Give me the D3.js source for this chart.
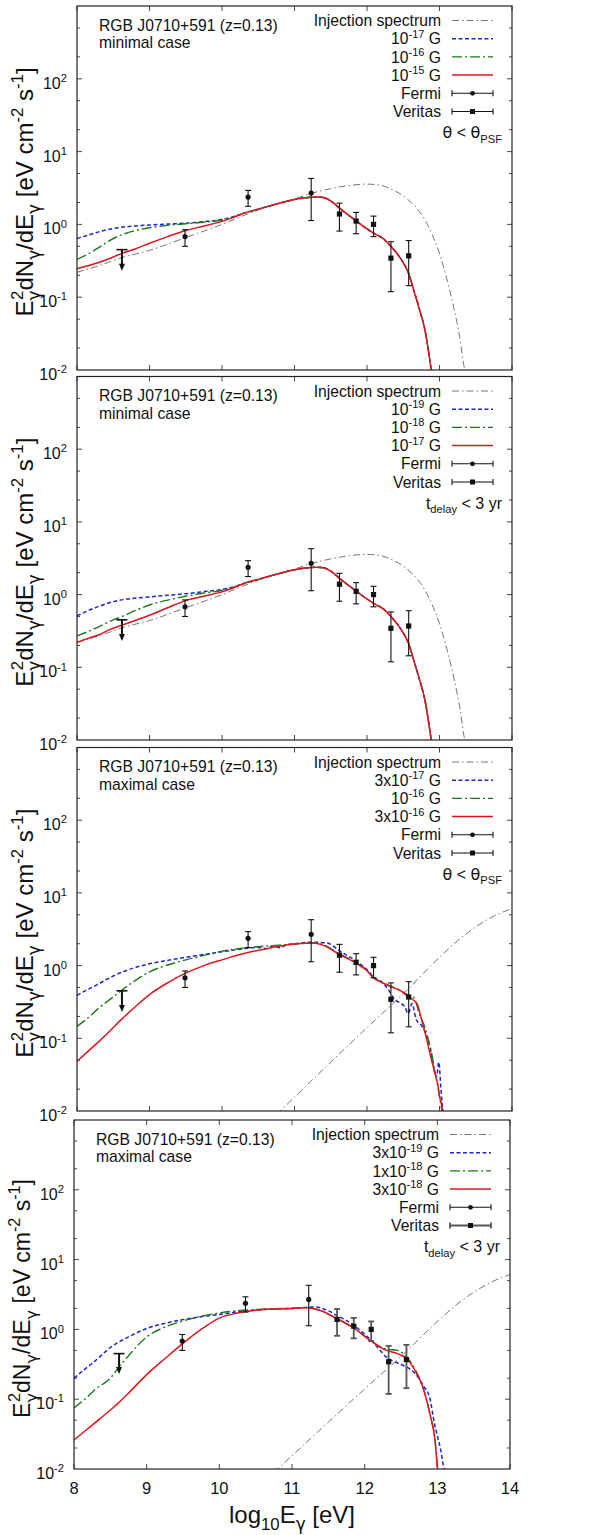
<!DOCTYPE html>
<html>
<head>
<meta charset="utf-8">
<script src="https://cdn.jsdelivr.net/npm/d3@7"></script>
<style>
  body { margin:0; background:#fff; }
  svg { display:block; font-family:'Liberation Sans', Arial, Helvetica, sans-serif; }
  .greek { font-family:'DejaVu Sans', sans-serif; }
</style>
</head>
<body>
<svg id="chart" width="600" height="1535"></svg>
<script>
// ---------------- DATA ----------------
const xTickValues = [8, 9, 10, 11, 12, 13, 14];
const yTickExponents = [-2, -1, 0, 1, 2];
const yMinorFactors = [2, 5];

// Fermi points: log10 E, flux, lower, upper
const fermiE    = [9.49, 10.36, 11.23];
const fermiFlux = [0.68, 2.37, 2.69];
const fermiLo   = [0.50, 1.77, 1.13];
const fermiHi   = [0.845, 2.93, 4.28];
// Fermi upper limit
const fermiULE = 8.62, fermiULTop = 0.45, fermiULTip = 0.23;

// Veritas points
const veritasE    = [11.62, 11.85, 12.09, 12.33, 12.575];
const veritasFlux = [1.39, 1.11, 1.00, 0.344, 0.37];
const veritasLo   = [0.81, 0.745, 0.68, 0.119, 0.144];
const veritasHi   = [1.96, 1.46, 1.30, 0.578, 0.60];

// Injection spectra
const injectionMinimal = [[8.0,0.22],[8.3,0.27],[8.62,0.35],[9.0,0.44],[9.5,0.66],[10.0,1.0],[10.36,1.4],[10.7,1.85],[11.0,2.25],[11.25,2.7],[11.5,3.1],[11.75,3.42],[12.0,3.58],[12.2,3.42],[12.35,3.0],[12.455,2.64],[12.55,2.25],[12.69,1.65],[12.8,1.15],[12.9,0.72],[13.0,0.4],[13.1,0.18],[13.2,0.07],[13.28,0.028],[13.34,0.011],[13.36,0.009]];
const injectionMaximal = [[10.75,0.009],[10.8,0.01],[11.0,0.0155],[11.5,0.047],[12.0,0.14],[12.5,0.41],[13.0,1.3],[13.25,2.2],[13.5,3.4],[13.75,4.8],[14.0,6.1]];

// Panel 1 (minimal, theta < theta_PSF)
const minimalTail = [[10.3,1.42],[10.5,1.62],[10.75,1.9],[11.0,2.2],[11.15,2.32],[11.3,2.38],[11.4,2.34],[11.5,2.1],[11.62,1.68],[11.72,1.4],[11.85,1.12],[12.0,0.87],[12.09,0.76],[12.23,0.63],[12.33,0.5],[12.455,0.35],[12.575,0.21],[12.65,0.12],[12.72,0.07],[12.8,0.035],[12.88,0.011],[12.9,0.008]];
const p1BlueLow  = [[8.0,0.64],[8.15,0.71],[8.3,0.79],[8.45,0.86],[8.6,0.91],[8.8,0.95],[9.0,0.98],[9.25,1.01],[9.5,1.04],[9.75,1.09],[10.0,1.17],[10.15,1.27]];
const p1GreenLow = [[8.0,0.33],[8.15,0.39],[8.3,0.48],[8.45,0.6],[8.6,0.71],[8.8,0.82],[9.0,0.9],[9.25,0.97],[9.5,1.02],[9.75,1.07],[10.0,1.15],[10.15,1.26]];
const p1RedLow   = [[8.0,0.245],[8.15,0.27],[8.3,0.3],[8.45,0.34],[8.62,0.4],[8.8,0.46],[9.0,0.55],[9.25,0.68],[9.49,0.82],[9.75,0.95],[10.0,1.1],[10.15,1.24]];

// Panel 2 (minimal, t_delay < 3 yr)
const p2BlueLow  = [[8.0,0.51],[8.15,0.6],[8.3,0.69],[8.5,0.8],[8.7,0.87],[9.0,0.93],[9.25,0.98],[9.5,1.03],[9.75,1.1],[10.0,1.18],[10.15,1.27]];
const p2GreenLow = [[8.0,0.27],[8.15,0.31],[8.3,0.36],[8.5,0.45],[8.62,0.5],[8.8,0.6],[9.0,0.72],[9.25,0.84],[9.5,0.95],[9.75,1.05],[10.0,1.14],[10.15,1.25]];
const p2RedLow   = [[8.0,0.22],[8.15,0.25],[8.3,0.28],[8.45,0.33],[8.62,0.38],[8.8,0.44],[9.0,0.52],[9.25,0.66],[9.49,0.82],[9.75,0.95],[10.0,1.09],[10.15,1.23]];

// Panel 3 (maximal, theta < theta_PSF)
const p3Blue  = [[8.0,0.39],[8.15,0.47],[8.3,0.56],[8.5,0.72],[8.7,0.87],[9.0,1.06],[9.25,1.18],[9.5,1.3],[9.75,1.42],[10.0,1.55],[10.25,1.68],[10.5,1.78],[10.62,1.72],[10.7,1.86],[10.8,1.76],[10.9,1.95],[11.0,2.0],[11.25,2.1],[11.45,2.05],[11.62,1.6],[11.85,1.15],[12.0,0.88],[12.1,0.68],[12.2,0.6],[12.3,0.46],[12.38,0.34],[12.45,0.31],[12.52,0.27],[12.57,0.22],[12.62,0.3],[12.68,0.18],[12.75,0.15],[12.82,0.11],[12.87,0.075],[12.92,0.04],[12.96,0.03],[12.99,0.047],[13.02,0.02],[13.05,0.009]];
const p3Green = [[8.0,0.146],[8.15,0.19],[8.3,0.26],[8.5,0.37],[8.62,0.46],[8.8,0.62],[9.0,0.82],[9.25,1.02],[9.5,1.2],[9.75,1.38],[10.0,1.58],[10.25,1.72],[10.5,1.82],[10.75,1.9],[11.0,1.98],[11.25,2.05],[11.4,1.92],[11.62,1.45],[11.85,1.1],[12.0,0.86],[12.1,0.68],[12.2,0.6],[12.33,0.52],[12.45,0.46],[12.575,0.39],[12.65,0.36],[12.72,0.22],[12.8,0.14],[12.88,0.07],[12.95,0.03],[13.0,0.016],[13.04,0.009]];
const p3Red   = [[8.0,0.048],[8.15,0.066],[8.3,0.09],[8.45,0.125],[8.62,0.185],[8.8,0.27],[9.0,0.4],[9.25,0.58],[9.49,0.78],[9.75,1.0],[10.0,1.2],[10.25,1.42],[10.5,1.62],[10.75,1.82],[11.0,1.98],[11.25,2.05],[11.4,1.9],[11.62,1.42],[11.85,1.08],[12.0,0.85],[12.1,0.66],[12.2,0.59],[12.33,0.51],[12.45,0.46],[12.575,0.37],[12.69,0.3],[12.76,0.17],[12.82,0.1],[12.88,0.055],[12.93,0.035],[12.98,0.022],[13.0,0.016],[13.03,0.012],[13.05,0.009]];

// Panel 4 (maximal, t_delay < 3 yr)
const p4Blue  = [[8.0,0.2],[8.15,0.27],[8.3,0.36],[8.5,0.55],[8.75,0.78],[9.0,1.03],[9.25,1.22],[9.5,1.38],[9.75,1.52],[10.0,1.64],[10.25,1.78],[10.5,1.88],[10.75,1.96],[11.0,2.0],[11.3,2.1],[11.5,1.85],[11.62,1.58],[11.85,1.15],[12.0,0.85],[12.09,0.7],[12.2,0.52],[12.3,0.4],[12.45,0.33],[12.6,0.28],[12.7,0.23],[12.8,0.16],[12.9,0.1],[12.96,0.045],[13.0,0.03],[13.05,0.018],[13.09,0.01],[13.1,0.009]];
const p4Green = [[8.0,0.075],[8.15,0.1],[8.3,0.14],[8.5,0.2],[8.62,0.29],[8.75,0.42],[9.0,0.78],[9.25,1.08],[9.5,1.32],[9.75,1.54],[10.0,1.72],[10.25,1.85],[10.5,1.92],[10.75,1.98],[11.0,2.02],[11.2,2.05],[11.4,1.85],[11.62,1.42],[11.85,1.05],[12.09,0.68],[12.3,0.52],[12.45,0.5],[12.58,0.4],[12.7,0.26],[12.8,0.15],[12.9,0.06],[12.97,0.025],[13.0,0.011],[13.01,0.009]];
const p4Red   = [[8.0,0.026],[8.15,0.035],[8.3,0.047],[8.5,0.07],[8.62,0.09],[8.75,0.122],[9.0,0.225],[9.25,0.38],[9.49,0.62],[9.75,1.0],[10.0,1.45],[10.25,1.72],[10.5,1.88],[10.75,1.96],[11.0,2.0],[11.2,2.05],[11.4,1.85],[11.62,1.42],[11.85,1.05],[12.09,0.68],[12.3,0.5],[12.45,0.45],[12.58,0.38],[12.7,0.25],[12.8,0.15],[12.9,0.06],[12.97,0.025],[13.0,0.011],[13.01,0.009]];

// Text
const sourceTitle = "RGB J0710+591 (z=0.13)";
const caseLabels = ["minimal case", "minimal case", "maximal case", "maximal case"];
const fieldLabels = [
  [[["10"],["-17","sup"],[" G"]], [["10"],["-16","sup"],[" G"]], [["10"],["-15","sup"],[" G"]]],
  [[["10"],["-19","sup"],[" G"]], [["10"],["-18","sup"],[" G"]], [["10"],["-17","sup"],[" G"]]],
  [[["3x10"],["-17","sup"],[" G"]], [["10"],["-16","sup"],[" G"]], [["3x10"],["-16","sup"],[" G"]]],
  [[["3x10"],["-19","sup"],[" G"]], [["1x10"],["-18","sup"],[" G"]], [["3x10"],["-18","sup"],[" G"]]]
];
const noteTheta = [["θ","n",null,true],[" < "],["θ","n",null,true],["PSF","sub"]];
const noteDelay = [["t"],["delay","sub"],[" < 3 yr"]];

// ---------------- DRAWING ----------------
const svg = d3.select("#chart");
svg.append("rect").attr("width",600).attr("height",1535).attr("fill","#fff");

const COL = {inj:"#666", blue:"#2323d2", green:"#1b7a1b", red:"#e0161c", ink:"#111"};
const STY = {
  inj:   {stroke:COL.inj,   w:0.9, dash:"7,3,1.5,3"},
  blue:  {stroke:COL.blue,  w:1.5, dash:"4,2.5"},
  green: {stroke:COL.green, w:1.4, dash:"10,3,2,3"},
  red:   {stroke:COL.red,   w:1.5, dash:null}
};

// segment: [text, mode, dx, greek]
function rich(sel, segs, fs) {
  let cur = 0;
  segs.forEach(s => {
    const mode = s[1] || "n";
    const target = mode === "sup" ? -0.42*fs : mode === "sub" ? 0.3*fs : 0;
    const size = mode === "n" ? fs : 0.7*fs;
    const t = sel.append("tspan").attr("dy", (target - cur).toFixed(2)).attr("font-size", size).text(s[0]);
    if (s[2] !== undefined && s[2] !== null) t.attr("dx", s[2]);
    if (s[3]) t.attr("class", "greek");
    cur = target;
  });
}

const panels = [
  {L:77, R:512, T:6,     B:370,  inj:injectionMinimal, blue:p1BlueLow.concat(minimalTail), green:p1GreenLow.concat(minimalTail), red:p1RedLow.concat(minimalTail), note:noteTheta, vGray:false, ylfs:24},
  {L:77, R:512, T:376.5, B:740,  inj:injectionMinimal, blue:p2BlueLow.concat(minimalTail), green:p2GreenLow.concat(minimalTail), red:p2RedLow.concat(minimalTail), note:noteDelay, vGray:false, ylfs:24},
  {L:77, R:512, T:747.5, B:1111, inj:injectionMaximal, blue:p3Blue, green:p3Green, red:p3Red, note:noteTheta, vGray:false, ylfs:24},
  {L:74, R:510, T:1120,  B:1469, inj:injectionMaximal, blue:p4Blue, green:p4Green, red:p4Red, note:noteDelay, vGray:true, ylfs:23}
];

panels.forEach((p, i) => {
  const x = d3.scaleLinear().domain([8,14]).range([p.L, p.R]);
  const y = d3.scaleLog().domain([1e-2, 1e3]).range([p.B, p.T]);
  const g = svg.append("g");
  const clipId = "clip" + i;
  svg.append("clipPath").attr("id", clipId).append("rect")
    .attr("x", p.L).attr("y", p.T).attr("width", p.R - p.L).attr("height", p.B - p.T);

  // ticks (all four sides, inward)
  const tk = g.append("g").attr("stroke", "#333").attr("stroke-width", 0.9);
  xTickValues.forEach(v => {
    tk.append("line").attr("x1", x(v)).attr("x2", x(v)).attr("y1", p.B).attr("y2", p.B - 5);
    tk.append("line").attr("x1", x(v)).attr("x2", x(v)).attr("y1", p.T).attr("y2", p.T + 5);
  });
  d3.range(-2, 3).forEach(e => {
    const maj = Math.pow(10, e);
    if (e > -2) {
      tk.append("line").attr("x1", p.L).attr("x2", p.L + 5).attr("y1", y(maj)).attr("y2", y(maj));
      tk.append("line").attr("x1", p.R).attr("x2", p.R - 5).attr("y1", y(maj)).attr("y2", y(maj));
    }
    yMinorFactors.forEach(f => {
      const v = f * maj;
      tk.append("line").attr("x1", p.L).attr("x2", p.L + 3).attr("y1", y(v)).attr("y2", y(v));
      tk.append("line").attr("x1", p.R).attr("x2", p.R - 3).attr("y1", y(v)).attr("y2", y(v));
    });
  });

  // y tick labels
  yTickExponents.forEach(e => {
    const t = g.append("text").attr("x", p.L - 10).attr("y", y(Math.pow(10, e)) + 10)
      .attr("text-anchor", "end").attr("fill", COL.ink).attr("font-size", 16);
    rich(t, [["10"], [String(e), "sup"]], 16);
  });

  // y axis label
  const yl = g.append("text")
    .attr("transform", `translate(${p.L - 44},${(p.T + p.B)/2 + 4}) rotate(-90)`)
    .attr("text-anchor", "middle").attr("fill", COL.ink).attr("font-size", p.ylfs);
  const gw = -0.55*p.ylfs*0.7;
  rich(yl, [["E"], ["γ","sub",null,true], ["2","sup", gw], ["dN"], ["γ","sub",null,true], ["/dE"], ["γ","sub",null,true], [" [eV cm"], ["-2","sup"], [" s"], ["-1","sup"], ["]"]], p.ylfs);

  // curves
  const line = d3.line().x(d => x(d[0])).y(d => y(d[1])).curve(d3.curveMonotoneX);
  const cg = g.append("g").attr("clip-path", `url(#${clipId})`).attr("fill", "none");
  [["inj", p.inj], ["blue", p.blue], ["green", p.green], ["red", p.red]].forEach(([k, data]) => {
    const s = STY[k];
    const path = cg.append("path").datum(data).attr("d", line)
      .attr("stroke", s.stroke).attr("stroke-width", s.w).attr("stroke-linejoin", "round");
    if (s.dash) path.attr("stroke-dasharray", s.dash);
  });

  // data points
  const dg = g.append("g");
  const vCol = p.vGray ? "#555" : "#111";
  const vW = p.vGray ? 1.8 : 1.1;
  fermiE.forEach((e, k) => {
    const cx = x(e);
    dg.append("line").attr("x1", cx).attr("x2", cx).attr("y1", y(fermiLo[k])).attr("y2", y(fermiHi[k])).attr("stroke", "#111").attr("stroke-width", 1.1);
    [fermiLo[k], fermiHi[k]].forEach(v => dg.append("line").attr("x1", cx - 3).attr("x2", cx + 3).attr("y1", y(v)).attr("y2", y(v)).attr("stroke", "#111").attr("stroke-width", 1.1));
    dg.append("circle").attr("cx", cx).attr("cy", y(fermiFlux[k])).attr("r", 2.6).attr("fill", "#111");
  });
  veritasE.forEach((e, k) => {
    const cx = x(e);
    dg.append("line").attr("x1", cx).attr("x2", cx).attr("y1", y(veritasLo[k])).attr("y2", y(veritasHi[k])).attr("stroke", vCol).attr("stroke-width", vW);
    [veritasLo[k], veritasHi[k]].forEach(v => dg.append("line").attr("x1", cx - 3).attr("x2", cx + 3).attr("y1", y(v)).attr("y2", y(v)).attr("stroke", vCol).attr("stroke-width", vW));
    const cy = y(veritasFlux[k]);
    dg.append("rect").attr("x", cx - 2.6).attr("y", cy - 2.6).attr("width", 5.2).attr("height", 5.2).attr("fill", "#111");
  });
  // upper limit
  {
    const ux = x(fermiULE), yt = y(fermiULTop), yTip = y(fermiULTip);
    dg.append("line").attr("x1", ux - 5.5).attr("x2", ux + 5.5).attr("y1", yt).attr("y2", yt).attr("stroke", "#111").attr("stroke-width", 1.6);
    dg.append("line").attr("x1", ux).attr("x2", ux).attr("y1", yt).attr("y2", yTip - 5).attr("stroke", "#111").attr("stroke-width", 2);
    dg.append("path").attr("d", `M${ux - 3},${yTip - 7} L${ux + 3},${yTip - 7} L${ux},${yTip} Z`).attr("fill", "#111");
  }

  // frame
  g.append("rect").attr("x", p.L).attr("y", p.T).attr("width", p.R - p.L).attr("height", p.B - p.T)
    .attr("fill", "none").attr("stroke", "#222").attr("stroke-width", 1.2);

  // title
  g.append("text").attr("x", p.L + 22).attr("y", p.T + 24.5).attr("font-size", 15.7).attr("fill", COL.ink).text(sourceTitle);
  g.append("text").attr("x", p.L + 22).attr("y", p.T + 42.2).attr("font-size", 15.7).attr("fill", COL.ink).text(caseLabels[i]);

  // legend
  const lx = p.R - 71, s1 = p.R - 60, s2 = p.R - 19;
  const rowY = r => p.T + 14.5 + r * 18.2;
  const items = [
    {lab:[["Injection spectrum"]], kind:"inj"},
    {lab:fieldLabels[i][0], kind:"blue"},
    {lab:fieldLabels[i][1], kind:"green"},
    {lab:fieldLabels[i][2], kind:"red"},
    {lab:[["Fermi"]], kind:"fermi"},
    {lab:[["Veritas"]], kind:"veritas"}
  ];
  items.forEach((it, r) => {
    const cy = rowY(r);
    const t = g.append("text").attr("x", lx).attr("y", cy + 5.6).attr("text-anchor", "end").attr("font-size", 15.7).attr("fill", COL.ink);
    rich(t, it.lab, 15.7);
    if (STY[it.kind]) {
      const s = STY[it.kind];
      const l = g.append("line").attr("x1", s1).attr("x2", s2).attr("y1", cy).attr("y2", cy)
        .attr("stroke", s.stroke).attr("stroke-width", s.w);
      if (s.dash) l.attr("stroke-dasharray", s.dash);
    } else {
      const col = it.kind === "veritas" ? vCol : "#111";
      const w = it.kind === "veritas" ? vW : 1.1;
      g.append("line").attr("x1", s1).attr("x2", s2).attr("y1", cy).attr("y2", cy).attr("stroke", col).attr("stroke-width", w);
      [s1, s2].forEach(xx => g.append("line").attr("x1", xx).attr("x2", xx).attr("y1", cy - 3).attr("y2", cy + 3).attr("stroke", col).attr("stroke-width", w));
      const mx = (s1 + s2) / 2;
      if (it.kind === "fermi") g.append("circle").attr("cx", mx).attr("cy", cy).attr("r", 2.4).attr("fill", "#111");
      else g.append("rect").attr("x", mx - 2.5).attr("y", cy - 2.5).attr("width", 5).attr("height", 5).attr("fill", "#111");
    }
  });
  const nt = g.append("text").attr("x", p.R - 10).attr("y", p.T + 132).attr("text-anchor", "end").attr("font-size", 16).attr("fill", COL.ink);
  rich(nt, p.note, 16);

  // x tick labels and x label on bottom panel
  if (i === panels.length - 1) {
    xTickValues.forEach(v => {
      g.append("text").attr("x", x(v)).attr("y", p.B + 25).attr("text-anchor", "middle").attr("font-size", 16.5).attr("fill", COL.ink).text(v);
    });
    const xl = g.append("text").attr("x", (p.L + p.R) / 2).attr("y", p.B + 54).attr("text-anchor", "middle").attr("font-size", 24).attr("fill", COL.ink);
    rich(xl, [["log"], ["10","sub"], ["E"], ["γ","sub",null,true], [" [eV]"]], 24);
  }
});
</script>
</body>
</html>
